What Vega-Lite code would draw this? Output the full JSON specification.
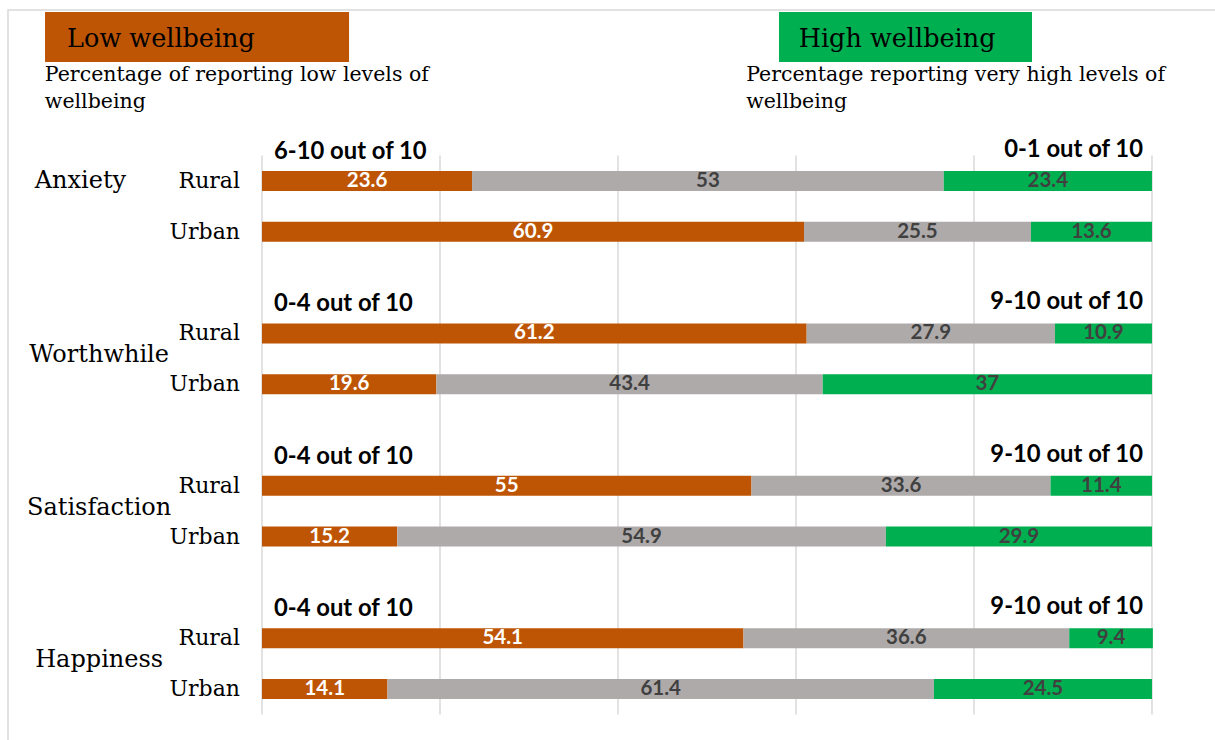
{
  "$schema": "https://vega.github.io/schema/vega-lite/v6.json",
  "width": 1211,
  "height": 734,
  "autosize": {"type": "none"},
  "padding": {"left": 8, "top": 10, "right": -4, "bottom": -4},
  "background": "white",
  "config": {"view": {"stroke": "#d9d9d9", "strokeWidth": 1.5}},
  "datasets": {
    "bars": [
      {"measure": "Anxiety", "area": "Rural", "row": "Anxiety Rural", "level": "low", "value": 23.6},
      {"measure": "Anxiety", "area": "Rural", "row": "Anxiety Rural", "level": "neutral", "value": 53},
      {"measure": "Anxiety", "area": "Rural", "row": "Anxiety Rural", "level": "veryhigh", "value": 23.4},
      {"measure": "Anxiety", "area": "Urban", "row": "Anxiety Urban", "level": "low", "value": 60.9},
      {"measure": "Anxiety", "area": "Urban", "row": "Anxiety Urban", "level": "neutral", "value": 25.5},
      {"measure": "Anxiety", "area": "Urban", "row": "Anxiety Urban", "level": "veryhigh", "value": 13.6},
      {"measure": "Worthwhile", "area": "Rural", "row": "Worthwhile Rural", "level": "low", "value": 61.2},
      {"measure": "Worthwhile", "area": "Rural", "row": "Worthwhile Rural", "level": "neutral", "value": 27.9},
      {"measure": "Worthwhile", "area": "Rural", "row": "Worthwhile Rural", "level": "veryhigh", "value": 10.9},
      {"measure": "Worthwhile", "area": "Urban", "row": "Worthwhile Urban", "level": "low", "value": 19.6},
      {"measure": "Worthwhile", "area": "Urban", "row": "Worthwhile Urban", "level": "neutral", "value": 43.4},
      {"measure": "Worthwhile", "area": "Urban", "row": "Worthwhile Urban", "level": "veryhigh", "value": 37},
      {"measure": "Satisfaction", "area": "Rural", "row": "Satisfaction Rural", "level": "low", "value": 55},
      {"measure": "Satisfaction", "area": "Rural", "row": "Satisfaction Rural", "level": "neutral", "value": 33.6},
      {"measure": "Satisfaction", "area": "Rural", "row": "Satisfaction Rural", "level": "veryhigh", "value": 11.4},
      {"measure": "Satisfaction", "area": "Urban", "row": "Satisfaction Urban", "level": "low", "value": 15.2},
      {"measure": "Satisfaction", "area": "Urban", "row": "Satisfaction Urban", "level": "neutral", "value": 54.9},
      {"measure": "Satisfaction", "area": "Urban", "row": "Satisfaction Urban", "level": "veryhigh", "value": 29.9},
      {"measure": "Happiness", "area": "Rural", "row": "Happiness Rural", "level": "low", "value": 54.1},
      {"measure": "Happiness", "area": "Rural", "row": "Happiness Rural", "level": "neutral", "value": 36.6},
      {"measure": "Happiness", "area": "Rural", "row": "Happiness Rural", "level": "veryhigh", "value": 9.4},
      {"measure": "Happiness", "area": "Urban", "row": "Happiness Urban", "level": "low", "value": 14.1},
      {"measure": "Happiness", "area": "Urban", "row": "Happiness Urban", "level": "neutral", "value": 61.4},
      {"measure": "Happiness", "area": "Urban", "row": "Happiness Urban", "level": "veryhigh", "value": 24.5}
    ],
    "measures": [
      {"measure": "Anxiety", "rural": "Anxiety Rural", "lowLabel": "6-10 out of 10", "highLabel": "0-1 out of 10"},
      {"measure": "Worthwhile", "rural": "Worthwhile Rural", "lowLabel": "0-4 out of 10", "highLabel": "9-10 out of 10"},
      {"measure": "Satisfaction", "rural": "Satisfaction Rural", "lowLabel": "0-4 out of 10", "highLabel": "9-10 out of 10"},
      {"measure": "Happiness", "rural": "Happiness Rural", "lowLabel": "0-4 out of 10", "highLabel": "9-10 out of 10"}
    ],
    "grid": [{"pct": 0}, {"pct": 20}, {"pct": 40}, {"pct": 60}, {"pct": 80}, {"pct": 100}]
  },
  "layer": [
    {
      "data": {"name": "grid"},
      "mark": {"type": "rule", "color": "#d9d9d9", "strokeWidth": 1.5},
      "encoding": {
        "x": {"field": "pct", "type": "quantitative", "axis": null,
              "scale": {"domain": [-28.54, 107.53], "nice": false, "zero": false}},
        "y": {"datum": "gap0", "type": "nominal", "bandPosition": 1, "axis": null,
              "scale": {"type": "band", "domain": ["sub", "gap0", "Anxiety Rural", "Anxiety Urban", "gap1", "Worthwhile Rural", "Worthwhile Urban", "gap2", "Satisfaction Rural", "Satisfaction Urban", "gap3", "Happiness Rural", "Happiness Urban"],
                        "paddingInner": 0, "paddingOuter": 0.7244, "align": 0.598}},
        "y2": {"datum": "Happiness Urban", "bandPosition": 1}
      }
    },
    {
      "data": {"name": "bars"},
      "mark": {"type": "bar", "size": 20},
      "encoding": {
        "x": {"field": "value", "type": "quantitative", "stack": "zero", "axis": null},
        "y": {"field": "row", "type": "nominal", "axis": null},
        "color": {"field": "level", "type": "nominal", "legend": null,
                  "scale": {"domain": ["low", "neutral", "veryhigh"], "range": ["#BE5504", "#AEAAAA", "#00B050"]}},
        "order": {"field": "level", "sort": "ascending"}
      }
    },
    {
      "data": {"name": "bars"},
      "mark": {"type": "text", "font": "Lato", "fontWeight": "bold", "fontSize": 20.5, "baseline": "middle", "align": "center"},
      "encoding": {
        "x": {"field": "value", "type": "quantitative", "stack": "zero", "bandPosition": 0.5},
        "y": {"field": "row", "type": "nominal"},
        "detail": {"field": "level"},
        "order": {"field": "level", "sort": "ascending"},
        "text": {"field": "value", "type": "quantitative"},
        "color": {"condition": {"test": "datum.level === 'low'", "value": "#ffffff"}, "value": "#404040"}
      }
    },
    {
      "data": {"name": "bars"},
      "transform": [{"filter": "datum.level === 'low'"}],
      "mark": {"type": "text", "font": "DejaVu Serif", "fontSize": 22, "align": "right", "baseline": "middle", "dx": -22, "color": "#000000"},
      "encoding": {
        "x": {"datum": 0, "type": "quantitative"},
        "y": {"field": "row", "type": "nominal"},
        "text": {"field": "area"}
      }
    },
    {
      "data": {"name": "measures"},
      "transform": [{"filter": "datum.measure === 'Anxiety'"}],
      "mark": {"type": "text", "font": "DejaVu Serif", "fontSize": 24, "align": "center", "baseline": "middle", "color": "#000000"},
      "encoding": {
        "x": {"datum": -20.4, "type": "quantitative"},
        "y": {"field": "rural", "type": "nominal"},
        "text": {"field": "measure"}
      }
    },
    {
      "data": {"name": "measures"},
      "transform": [{"filter": "datum.measure !== 'Anxiety'"}],
      "mark": {"type": "text", "font": "DejaVu Serif", "fontSize": 24, "align": "center", "baseline": "middle", "dy": 22, "color": "#000000"},
      "encoding": {
        "x": {"datum": -18.3, "type": "quantitative"},
        "y": {"field": "rural", "type": "nominal"},
        "text": {"field": "measure"}
      }
    },
    {
      "data": {"name": "measures"},
      "mark": {"type": "text", "font": "Lato", "fontWeight": "bold", "fontSize": 23.8, "align": "left", "baseline": "middle", "dx": 12, "dy": -29, "color": "#000000"},
      "encoding": {
        "x": {"datum": 0, "type": "quantitative"},
        "y": {"field": "rural", "type": "nominal"},
        "text": {"field": "lowLabel"}
      }
    },
    {
      "data": {"name": "measures"},
      "mark": {"type": "text", "font": "Lato", "fontWeight": "bold", "fontSize": 23.8, "align": "right", "baseline": "middle", "dx": -9, "dy": -31, "color": "#000000"},
      "encoding": {
        "x": {"datum": 100, "type": "quantitative"},
        "y": {"field": "rural", "type": "nominal"},
        "text": {"field": "highLabel"}
      }
    },
    {
      "data": {"values": [{"title": "Low wellbeing"}]},
      "mark": {"type": "bar", "size": 50, "yOffset": -42.4, "color": "#BE5504"},
      "encoding": {
        "x": {"datum": -24.38, "type": "quantitative"},
        "x2": {"datum": 9.78},
        "y": {"datum": "sub", "type": "nominal"}
      }
    },
    {
      "data": {"values": [{"title": "High wellbeing"}]},
      "mark": {"type": "bar", "size": 50, "yOffset": -42.4, "color": "#00B050"},
      "encoding": {
        "x": {"datum": 58.09, "type": "quantitative"},
        "x2": {"datum": 86.52},
        "y": {"datum": "sub", "type": "nominal"}
      }
    },
    {
      "data": {"values": [{"title": "Low wellbeing"}]},
      "mark": {"type": "text", "font": "DejaVu Serif", "fontSize": 25.5, "align": "left", "baseline": "middle", "dy": -40, "color": "#000000"},
      "encoding": {
        "x": {"datum": -21.9, "type": "quantitative"},
        "y": {"datum": "sub", "type": "nominal"},
        "text": {"field": "title"}
      }
    },
    {
      "data": {"values": [{"title": "High wellbeing"}]},
      "mark": {"type": "text", "font": "DejaVu Serif", "fontSize": 25.5, "align": "left", "baseline": "middle", "dy": -40, "color": "#000000"},
      "encoding": {
        "x": {"datum": 60.3, "type": "quantitative"},
        "y": {"datum": "sub", "type": "nominal"},
        "text": {"field": "title"}
      }
    },
    {
      "data": {"values": [{"note": "Percentage of reporting low levels of\nwellbeing"}]},
      "mark": {"type": "text", "font": "DejaVu Serif", "fontSize": 20.5, "align": "left", "baseline": "middle", "dy": -4, "lineHeight": 27, "lineBreak": "\n", "color": "#000000"},
      "encoding": {
        "x": {"datum": -24.4, "type": "quantitative"},
        "y": {"datum": "sub", "type": "nominal"},
        "text": {"field": "note"}
      }
    },
    {
      "data": {"values": [{"note": "Percentage reporting very high levels of\nwellbeing"}]},
      "mark": {"type": "text", "font": "DejaVu Serif", "fontSize": 20.5, "align": "left", "baseline": "middle", "dy": -4, "lineHeight": 27, "lineBreak": "\n", "color": "#000000"},
      "encoding": {
        "x": {"datum": 54.4, "type": "quantitative"},
        "y": {"datum": "sub", "type": "nominal"},
        "text": {"field": "note"}
      }
    }
  ]
}
